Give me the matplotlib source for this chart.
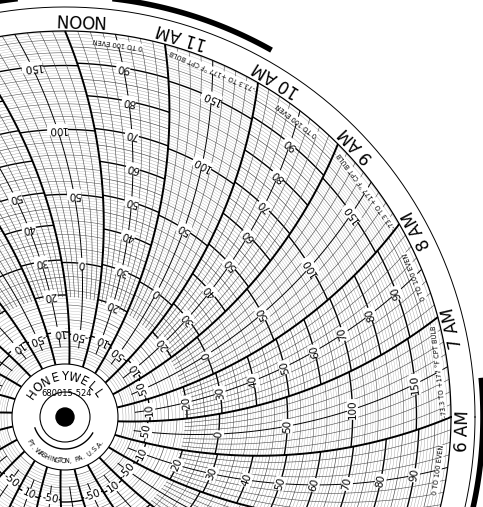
import numpy as np
import matplotlib
matplotlib.use("Agg")
import matplotlib.pyplot as plt
from matplotlib.collections import LineCollection

# chart layout (pixels, y up)
W, H = 483, 507
cx, cy = 65, 90
r_grid = 386
r_hub = 53
r_arc = 500   # radius of the curved time lines

# value scale: radius of each decade of the 0-100 scale
decades = [0, 10, 20, 30, 40, 50, 60, 70, 80, 90, 100]
decade_r = [55, 85, 122, 157, 192, 225, 258, 290, 322, 354, 386]

even_labels = [10, 20, 30, 40, 50, 60, 70, 80, 90]
bulb_labels = [-50, 0, 50, 100, 150]
bulb_lo, bulb_hi = -73.3, 177.0

hour_names = {6: "6 AM", 7: "7 AM", 8: "8 AM", 9: "9 AM", 10: "10 AM", 11: "11 AM", 12: "NOON",
              13: "1 PM", 5: "5 AM", 4: "4 AM"}
even_title = "0 TO 100 EVEN"
bulb_title = "-73.3 TO +177 °F CPT BULB"


def r_of(v):
    return np.interp(v, decades, decade_r)


def r_of_f(f):
    return r_of((f - bulb_lo) / (bulb_hi - bulb_lo) * 100)


beta = np.arccos(r_grid / (2 * r_arc))


def delta(r):
    return beta - np.arccos(np.asarray(r) / (2 * r_arc))


def xy(r, t):
    # t = hours, 6 AM at angle 0, counterclockwise
    th = np.radians((t - 6) * 15) + delta(r)
    return cx + r * np.cos(th), cy + r * np.sin(th)


def inside(x, y, m=4):
    return m < x < W - m and m < y < H - m


fig = plt.figure(figsize=(W / 100, H / 100), dpi=100)
ax = fig.add_axes([0, 0, 1, 1])
ax.set_xlim(0, W)
ax.set_ylim(0, H)
ax.set_aspect("equal")
ax.axis("off")

segs, lws, cols = [], [], []


def add(x, y, lw, c):
    segs.append(np.column_stack([x, y]))
    lws.append(lw)
    cols.append(c)


# concentric circles inside each hour sector
for h in range(24):
    t = np.linspace(h, h + 1, 40)
    if h % 2 == 0:
        for f in range(-70, 180, 10):
            r = r_of_f(f)
            if f % 50 == 0:
                add(*xy(r, t), 1.0, "black")
            else:
                add(*xy(r, t), 0.4, "#555555")
        for f in range(-70, 180, 2):
            if f % 10:
                add(*xy(r_of_f(f), t), 0.2, "#999999")
    else:
        for v in range(1, 100):
            r = r_of(v)
            if v % 10 == 0:
                add(*xy(r, t), 1.0, "black")
            elif v % 5 == 0:
                add(*xy(r, t), 0.45, "#444444")
            else:
                add(*xy(r, t), 0.25, "#888888")

# curved time lines
for k in range(24 * 8):
    t0 = k / 8
    if k % 8 == 0:
        rr = np.linspace(r_hub, r_grid, 120)
        add(*xy(rr, t0), 1.4, "black")
    elif k % 4 == 0:
        rr = np.linspace(70, r_grid, 120)
        add(*xy(rr, t0), 0.7, "black")
    else:
        rr = np.linspace(120, r_grid, 100)
        add(*xy(rr, t0), 0.4, "#444444")

ax.add_collection(LineCollection(segs, linewidths=lws, colors=cols, zorder=1))

# border circles
a = np.linspace(0, 2 * np.pi, 720)
ax.plot(cx + r_grid * np.cos(a), cy + r_grid * np.sin(a), color="black", lw=0.9, zorder=2)
ax.plot(cx + 410 * np.cos(a), cy + 410 * np.sin(a), color="black", lw=0.7, zorder=2)
a1 = np.radians(np.linspace(61, 100, 80))
ax.plot(cx + 421 * np.cos(a1), cy + 421 * np.sin(a1), color="black", lw=4, zorder=2)
a2 = np.radians(np.linspace(-20, 5, 80))
ax.plot(cx + 418 * np.cos(a2), cy + 418 * np.sin(a2), color="black", lw=4, zorder=2)

# scale numbers along the half hour line of each sector
box = dict(boxstyle="square,pad=0.05", fc="white", ec="none")
for h in range(24):
    tm = h + 0.5
    if h % 2 == 0:
        vals, rs = bulb_labels, [r_of_f(f) for f in bulb_labels]
        title = bulb_title
    else:
        vals, rs = even_labels, [r_of(v) for v in even_labels]
        title = even_title
    for v, r in zip(vals, rs):
        x, y = xy(r, tm)
        if not inside(x, y, 7):
            continue
        th = (tm - 6) * 15 + np.degrees(delta(r))
        ax.text(x, y, str(v), fontsize=7.5, rotation=th + 90, ha="center", va="center",
                rotation_mode="anchor", bbox=box, zorder=3)
    x, y = xy(377, tm)
    if inside(x, y, 30):
        th = (tm - 6) * 15 + np.degrees(delta(377))
        ax.text(x, y, title, fontsize=4.8, rotation=th + 90, ha="center", va="center",
                rotation_mode="anchor", bbox=box, zorder=3)

# hour names outside the grid
for hh, name in hour_names.items():
    th = (hh - 6) * 15 - 2
    x = cx + 398 * np.cos(np.radians(th))
    y = cy + 398 * np.sin(np.radians(th))
    if not inside(x, y, 8):
        continue
    ax.text(x, y, name, fontsize=12, rotation=th + 90, ha="center", va="center",
            rotation_mode="anchor", zorder=3)

# hub
ax.add_patch(plt.Circle((cx, cy), r_hub, fc="white", ec="black", lw=0.8, zorder=4))
ax.add_patch(plt.Circle((cx, cy), 25, fc="none", ec="black", lw=0.8, zorder=5))
ax.add_patch(plt.Circle((cx, cy), 9, fc="black", ec="black", zorder=5))
a3 = np.radians(np.linspace(200, 330, 60))
ax.plot(cx + 32 * np.cos(a3), cy + 32 * np.sin(a3), color="black", lw=1.0, zorder=5)


def curved(text, r, a_start, a_end, size, top=True):
    n = len(text)
    for i, ch in enumerate(text):
        th = a_start + (a_end - a_start) * (i + 0.5) / n
        x = cx + r * np.cos(np.radians(th))
        y = cy + r * np.sin(np.radians(th))
        rot = th - 90 if top else th + 90
        ax.text(x, y, ch, fontsize=size, rotation=rot, ha="center", va="center",
                rotation_mode="anchor", zorder=6)


curved("HONEYWELL", 40, 152, 28, 8.5, top=True)
curved("FT. WASHINGTON, PA. U.S.A.", 44, 212, 328, 4.8, top=False)
ax.text(cx + 2, cy + 24, "680015-524", fontsize=6, ha="center", va="center", zorder=6)

fig.savefig("out.png", dpi=100, facecolor="white")
